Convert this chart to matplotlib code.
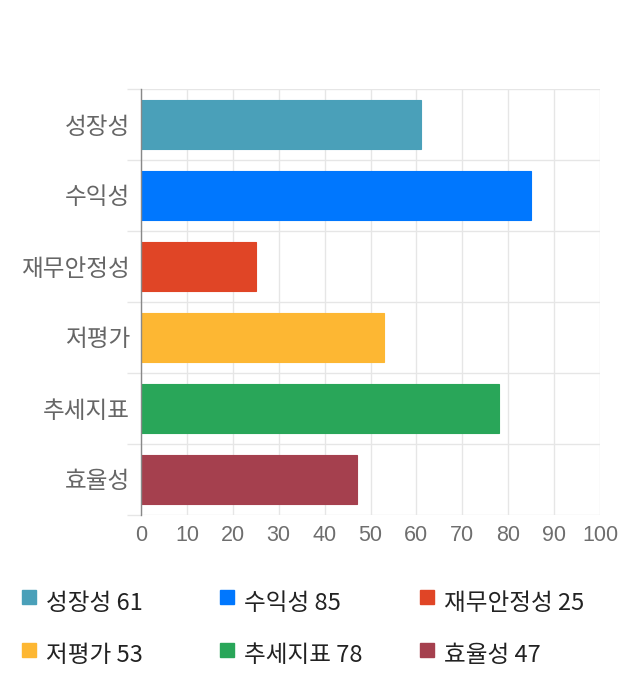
import matplotlib.pyplot as plt
import numpy as np
from matplotlib.patches import Rectangle

plt.rcParams['font.family'] = ['Noto Sans CJK KR', 'DejaVu Sans']

# data
categories = ['성장성', '수익성', '재무안정성', '저평가', '추세지표', '효율성']
scores = [61, 85, 25, 53, 78, 47]
colors = ['#4aa0b9', '#0077fe', '#e04526', '#fdb733', '#29a659', '#a5404e']
x_ticks = [0, 10, 20, 30, 40, 50, 60, 70, 80, 90, 100]

grid_col = '#e6e6e6'

fig = plt.figure(figsize=(6.4, 7), dpi=100)
ax = fig.add_axes([141 / 640, 1 - 515 / 700, 459 / 640, 426 / 700])

y = np.arange(len(categories))
ax.barh(y, scores, height=0.68, color=colors,
        edgecolor=[c for c in colors], linewidth=0.8, zorder=3)

ax.set_xlim(0, 100)
ax.set_ylim(len(categories) - 0.5, -0.5)
ax.set_xticks(x_ticks)
ax.set_xticklabels([str(t) for t in x_ticks], fontsize=15.5, color='#6e6e6e',
                   family=['Liberation Sans', 'DejaVu Sans'])
ax.set_yticks(y)
ax.set_yticklabels(categories, fontsize=17, color='#666666')
ax.set_yticks(np.arange(len(categories) + 1) - 0.5, minor=True)

ax.tick_params(axis='x', length=0, pad=7)
ax.tick_params(axis='y', which='major', length=0, pad=8)
ax.tick_params(axis='y', which='minor', length=10, color=grid_col, width=1)

ax.grid(axis='x', color=grid_col, linewidth=1, zorder=0)
ax.grid(axis='y', which='minor', color=grid_col, linewidth=1, zorder=0)
ax.grid(axis='y', which='major', visible=False)

for s in ['top', 'right', 'bottom']:
    ax.spines[s].set_visible(False)
ax.spines['left'].set_color('#888888')
ax.spines['left'].set_linewidth(1)
ax.spines['left'].set_zorder(4)

# legend laid out as in the reference (3 columns, 2 rows)
col_x = [22, 220, 420]
row_y = [603, 656]
for i, (cat, val, c) in enumerate(zip(categories, scores, colors)):
    px = col_x[i % 3]
    py = row_y[i // 3]
    fig.add_artist(Rectangle((px / 640, 1 - (py + 1) / 700), 14 / 640, 14 / 700,
                             transform=fig.transFigure, color=c))
    fig.text((px + 24) / 640, 1 - py / 700, f'{cat} {val}', fontsize=17,
             color='#222222', va='center', ha='left')

fig.savefig('out.png', dpi=100)
